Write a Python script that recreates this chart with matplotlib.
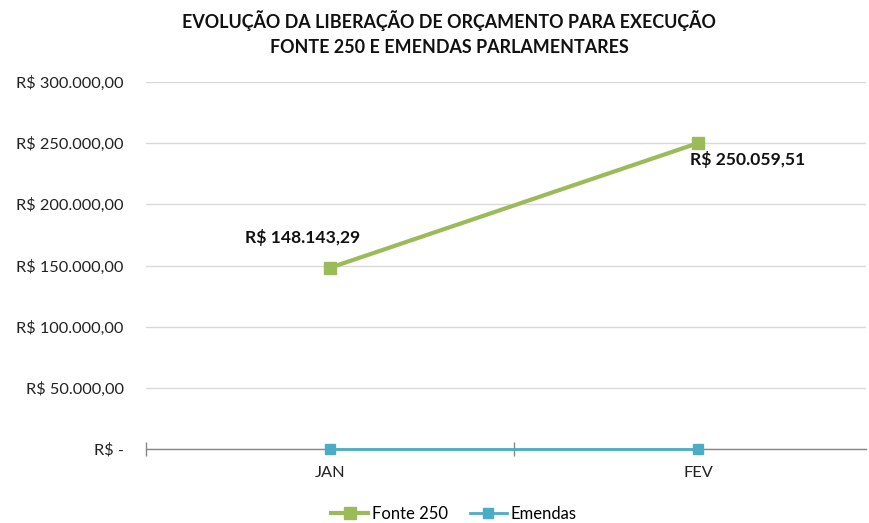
import matplotlib
matplotlib.use("Agg")
import matplotlib.pyplot as plt
from matplotlib.ticker import FuncFormatter, FixedLocator

plt.rcParams['font.family'] = ['Lato', 'DejaVu Sans']

months = ["JAN", "FEV"]
fonte_250 = [148143.29, 250059.51]
emendas = [0, 0]
title = "EVOLUÇÃO DA LIBERAÇÃO DE ORÇAMENTO PARA EXECUÇÃO\nFONTE 250 E EMENDAS PARLAMENTARES"

green = "#9BBB59"
blue = "#4BACC6"

fig = plt.figure(figsize=(8.69, 5.23), dpi=100)
W, H = 869, 523
left, right, top, bottom = 146, 866, 82, 449
ax = fig.add_axes([left / W, 1 - bottom / H, (right - left) / W, (bottom - top) / H])

x = list(range(len(months)))
ax.plot(x, fonte_250, color=green, lw=3, marker='s', ms=8, label="Fonte 250", zorder=3)
ax.plot(x, emendas, color=blue, lw=2, marker='s', ms=7, label="Emendas", zorder=5,
        clip_on=False)

ax.set_ylim(0, 300000)
ax.set_xlim(-0.5, -0.5 + (right - left) / 368)
ax.set_yticks(range(0, 300001, 50000))


def fmt(v, pos):
    if v == 0:
        return "R$ -"
    s = f"{v:,.2f}".replace(",", "X").replace(".", ",").replace("X", ".")
    return "R$ " + s


ax.yaxis.set_major_formatter(FuncFormatter(fmt))
ax.tick_params(axis='y', length=0, pad=16, labelsize=11.8, labelcolor="#222222")
ax.grid(axis='y', color="#D9D9D9", lw=1)
ax.set_axisbelow(True)

ax.set_xticks(x)
ax.set_xticklabels(months)
ax.tick_params(axis='x', which='major', length=0, pad=12, labelsize=11.8, labelcolor="#222222")
ax.xaxis.set_minor_locator(FixedLocator([-0.5, 0.5, 1.5]))
ax.tick_params(axis='x', which='minor', direction='inout', length=10, color="#868686", width=1)

for s in ['top', 'right', 'left']:
    ax.spines[s].set_visible(False)
ax.spines['bottom'].set_color("#868686")
ax.spines['bottom'].set_linewidth(1)
ax.spines['bottom'].set_zorder(2)

ax.annotate(fmt(fonte_250[0], 0), (x[0], fonte_250[0]),
            xytext=(-20, 16), textcoords='offset points', ha='center', va='bottom',
            fontsize=12.6, fontweight='bold', color="#111111")
ax.annotate(fmt(fonte_250[1], 0), (x[1], fonte_250[1]),
            xytext=(-6, -6), textcoords='offset points', ha='left', va='top',
            fontsize=12.6, fontweight='bold', color="#111111")

fig.text(449 / W, 1 - 33 / H, title, ha='center', va='center', fontsize=12.9,
         fontweight='bold', color="#111111", linespacing=1.55)

fig.legend(loc='center', bbox_to_anchor=(454 / W, 1 - 514 / H), ncol=2, frameon=False,
           fontsize=12, handlelength=2.2, columnspacing=1.3, handletextpad=0.25)

fig.savefig("out.png", dpi=100)
